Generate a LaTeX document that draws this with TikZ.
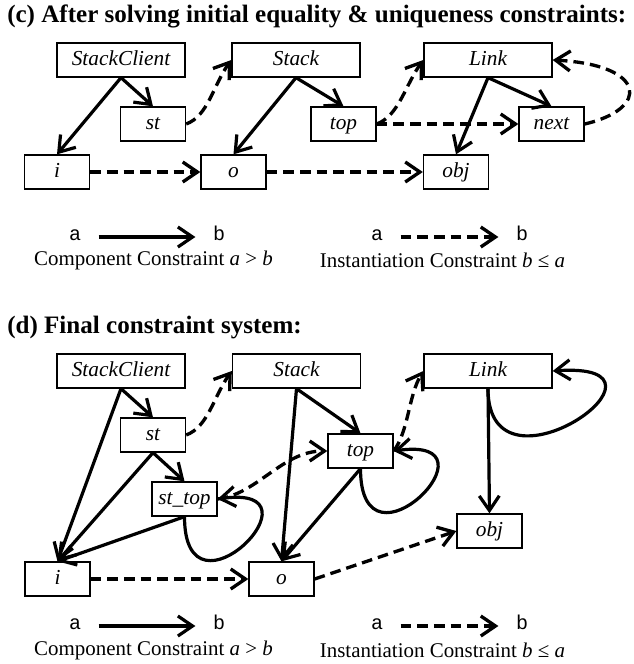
\documentclass[tikz,border=0pt]{standalone}
\usepackage{fontspec}
\setmainfont{Liberation Serif}
\setmonofont{Liberation Mono}
\usetikzlibrary{arrows.meta}

\begin{document}
\begin{tikzpicture}[
    x=0.75pt, y=-0.75pt,
    block/.style={draw, line width=1pt, minimum height=25.5pt, inner sep=0pt, text height=11pt, text depth=3.5pt, font=\fontsize{16}{18}\selectfont\itshape},
    wide/.style={block, minimum width=96pt},
    narrow/.style={block, minimum width=48.75pt},
    arrow/.style={-{Straight Barb[length=11pt,width=15pt]}, line width=2.4pt},
    darrow/.style={arrow, line width=2.5pt, dash pattern=on 8pt off 4.5pt},
    ttl/.style={anchor=west, inner sep=0pt, font=\fontsize{18.8}{21}\selectfont\bfseries},
    sym/.style={inner xsep=13pt, text height=1ex, text depth=0pt, font=\fontsize{15}{17}\selectfont\ttfamily},
    lbl/.style={inner sep=0pt, font=\fontsize{15.7}{18}\selectfont},
]
\useasboundingbox (0,0) rectangle (634,664);

% (c): after the initial equality and uniqueness constraints
\node[ttl] (titlec) at (7,16) {(c) After solving initial equality \& uniqueness constraints:};

\node[wide] (sc1) at (121,60) {StackClient};
\node[wide] (stack1) at (296,60) {Stack};
\node[wide] (link1) at (488,60) {Link};
\node[narrow] (st1) at (153,124) {st};
\node[narrow] (top1) at (343.5,124) {top};
\node[narrow] (next1) at (551.5,124) {next};
\node[narrow] (i1) at (57,172) {i};
\node[narrow] (o1) at (233.5,172) {o};
\node[narrow] (obj1) at (456,172) {obj};

% component constraints
\draw[arrow] (sc1.south) -- (i1.north);
\draw[arrow] (sc1.south) -- (st1.north);
\draw[arrow] (stack1.south) -- (o1.north);
\draw[arrow] (stack1.south) -- (top1.north);
\draw[arrow] (link1.south) -- (obj1.north);
\draw[arrow] (link1.south) -- (next1.north);

% instantiation constraints
\draw[darrow] (st1.east) .. controls +(22,-8) and +(-18,25) .. (stack1.west);
\draw[darrow] (top1.east) .. controls +(22,-8) and +(-18,25) .. (link1.west);
\draw[darrow] (top1) -- (next1);
\draw[darrow] (next1.east) .. controls +(65,-15) and +(95,5) .. (link1.east);
\draw[darrow] (i1) -- (o1);
\draw[darrow] (o1) -- (obj1);

% legend (c)
\node[sym] (ca1) at (75,237) {a};
\node[sym] (cb1) at (219,237) {b};
\draw[arrow] (ca1) -- (cb1);
\node[sym] (ia1) at (377,237) {a};
\node[sym] (ib1) at (522,237) {b};
\draw[darrow] (ia1) -- (ib1);
\node[lbl] (ccap1) at (153.5,260) {Component Constraint \textit{a} > \textit{b}};
\node[lbl] (icap1) at (442.5,260) {Instantiation Constraint \textit{b} ≤ \textit{a}};

% (d): final constraint system
\node[ttl] (titled) at (7,328) {(d) Final constraint system:};

\node[wide] (sc2) at (121,371) {StackClient};
\node[wide] (stack2) at (296.5,371) {Stack};
\node[wide] (link2) at (488,371) {Link};
\node[narrow] (st2) at (153,435) {st};
\node[narrow] (top2) at (360.5,451) {top};
\node[narrow] (sttop2) at (184.5,499) {st\_top};
\node[narrow] (obj2) at (489.5,531) {obj};
\node[narrow] (i2) at (57.5,579) {i};
\node[narrow] (o2) at (281.5,579) {o};

% component constraints
\draw[arrow] (sc2.south) -- (st2.north);
\draw[arrow] (sc2.south) -- (i2.north);
\draw[arrow] (st2.south) -- (sttop2.north);
\draw[arrow] (st2.south) -- (i2.north);
\draw[arrow] (sttop2.south) -- (i2.north);
\draw[arrow] (sttop2.south) .. controls +(0,115) and +(113,-16) .. (sttop2.east);
\draw[arrow] (stack2.south) -- (top2.north);
\draw[arrow] (stack2.south) -- (o2.north);
\draw[arrow] (top2.south) -- (o2.north);
\draw[arrow] (top2.south) .. controls +(0,115) and +(113,-16) .. (top2.east);
\draw[arrow] (link2.south) -- (obj2.north);
\draw[arrow] (link2.south) .. controls +(0,120) and +(145,-10) .. (link2.east);

% instantiation constraints
\draw[darrow] (st2.east) .. controls +(22,-8) and +(-18,25) .. (stack2.west);
\draw[darrow] (sttop2.east) .. controls +(40,-5) and +(-45,0) .. (top2.west);
\draw[darrow] (top2.east) .. controls +(15,-20) and +(-15,25) .. (link2.west);
\draw[darrow] (i2) -- (o2);
\draw[darrow] (o2.east) -- (obj2.west);

% legend (d)
\node[sym] (ca2) at (75,626) {a};
\node[sym] (cb2) at (219,626) {b};
\draw[arrow] (ca2) -- (cb2);
\node[sym] (ia2) at (377,626) {a};
\node[sym] (ib2) at (522,626) {b};
\draw[darrow] (ia2) -- (ib2);
\node[lbl] (ccap2) at (153.5,650) {Component Constraint \textit{a} > \textit{b}};
\node[lbl] (icap2) at (442.5,650) {Instantiation Constraint \textit{b} ≤ \textit{a}};

\end{tikzpicture}
\end{document}
